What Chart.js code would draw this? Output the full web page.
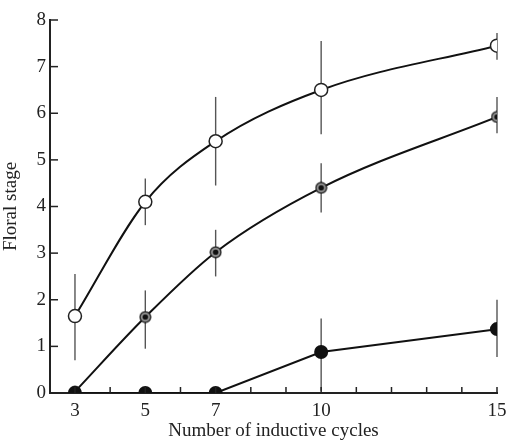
<!DOCTYPE html>
<html lang="en">
<head>
    <meta charset="UTF-8" />
    <title>Floral stage vs inductive cycles</title>
    <script src="https://cdn.jsdelivr.net/npm/chart.js"></script>
    <style>
        body { margin: 0; background: #fff; }
    </style>
</head>
<body>
    <canvas id="floralChart" width="507" height="442"></canvas>

    <script>
        // values
        const cycles = [3, 5, 7, 10, 15];
        const openMean = [1.65, 4.1, 5.4, 6.5, 7.45];
        const openLow = [0.7, 3.6, 4.45, 5.55, 7.15];
        const openHigh = [2.55, 4.6, 6.35, 7.55, 7.72];
        const dotMean = [0.03, 1.63, 3.02, 4.4, 5.92];
        const dotLow = [null, 0.95, 2.5, 3.87, 5.57];
        const dotHigh = [null, 2.2, 3.5, 4.93, 6.35];
        const solidMean = [0, 0, 0, 0.88, 1.37];
        const solidLow = [null, null, null, 0.05, 0.77];
        const solidHigh = [null, null, null, 1.6, 2.0];
        const minorTicks = [3, 4, 5, 6, 7, 8, 9, 10, 11, 12, 13, 14, 15];
        const yTicks = [0, 1, 2, 3, 4, 5, 6, 7, 8];

        const serif = "'Liberation Serif', 'DejaVu Serif', serif";

        function toPoints(ys) {
            return cycles.map((c, i) => ({ x: c, y: ys[i] }));
        }

        // circle with a dot in the middle
        function dottedCircle() {
            const c = document.createElement("canvas");
            c.width = 13; c.height = 13;
            const g = c.getContext("2d");
            g.beginPath();
            g.arc(6.5, 6.5, 5.3, 0, Math.PI * 2);
            g.fillStyle = "#9a9a9a";
            g.fill();
            g.lineWidth = 1.4;
            g.strokeStyle = "#222";
            g.stroke();
            g.beginPath();
            g.arc(6.5, 6.5, 2.8, 0, Math.PI * 2);
            g.fillStyle = "#111";
            g.fill();
            return c;
        }

        const errorBars = {
            id: "errorBars",
            beforeDatasetsDraw(chart) {
                const ctx = chart.ctx;
                const xs = chart.scales.x, ys = chart.scales.y;
                const sets = [[openLow, openHigh], [dotLow, dotHigh], [solidLow, solidHigh]];
                ctx.save();
                ctx.strokeStyle = "#555";
                ctx.lineWidth = 1.4;
                sets.forEach(([lo, hi]) => {
                    cycles.forEach((c, i) => {
                        if (lo[i] == null) return;
                        const px = xs.getPixelForValue(c);
                        ctx.beginPath();
                        ctx.moveTo(px, ys.getPixelForValue(lo[i]));
                        ctx.lineTo(px, ys.getPixelForValue(hi[i]));
                        ctx.stroke();
                    });
                });
                ctx.restore();
            },
            afterDraw(chart) {
                // tick marks point into the plot
                const ctx = chart.ctx;
                const xs = chart.scales.x, ys = chart.scales.y;
                const a = chart.chartArea;
                ctx.save();
                ctx.strokeStyle = "#222";
                ctx.lineWidth = 1.5;
                minorTicks.forEach(v => {
                    const px = xs.getPixelForValue(v);
                    ctx.beginPath();
                    ctx.moveTo(px, a.bottom);
                    ctx.lineTo(px, a.bottom - 6);
                    ctx.stroke();
                });
                yTicks.forEach(v => {
                    const py = ys.getPixelForValue(v);
                    ctx.beginPath();
                    ctx.moveTo(a.left, py);
                    ctx.lineTo(a.left + 8, py);
                    ctx.stroke();
                });
                ctx.restore();
            }
        };

        const lineStyle = {
            borderColor: "#111",
            borderWidth: 2,
            cubicInterpolationMode: "monotone",
            fill: false
        };

        new Chart(document.getElementById("floralChart"), {
            type: "line",
            data: {
                datasets: [
                    {
                        ...lineStyle,
                        cubicInterpolationMode: "default",
                        tension: 0,
                        data: toPoints(solidMean),
                        pointStyle: "circle",
                        pointRadius: 6,
                        pointBackgroundColor: "#111",
                        pointBorderColor: "#111"
                    },
                    {
                        ...lineStyle,
                        data: toPoints(dotMean),
                        pointStyle: dottedCircle()
                    },
                    {
                        ...lineStyle,
                        data: toPoints(openMean),
                        pointStyle: "circle",
                        pointRadius: 6.5,
                        pointBorderWidth: 1.5,
                        pointBackgroundColor: "#fff",
                        pointBorderColor: "#222"
                    }
                ]
            },
            options: {
                responsive: false,
                animation: false,
                layout: { padding: { top: 20, right: 10, left: 0, bottom: 0 } },
                plugins: { legend: { display: false }, tooltip: { enabled: false } },
                scales: {
                    x: {
                        type: "linear",
                        min: 2.29,
                        max: 15,
                        afterBuildTicks: s => { s.ticks = cycles.map(v => ({ value: v })); },
                        afterFit: s => { s.height = 49; s.paddingRight = 0; s.paddingLeft = 0; },
                        grid: { display: false, drawTicks: false },
                        border: { display: true, color: "#222", width: 2 },
                        ticks: { color: "#222", padding: 7, font: { family: serif, size: 19 } },
                        title: {
                            display: true,
                            text: "Number of inductive cycles",
                            color: "#222",
                            padding: 0,
                            font: { family: serif, size: 19 }
                        }
                    },
                    y: {
                        min: 0,
                        max: 8,
                        afterFit: s => { s.width = 50; },
                        grid: { display: false, drawTicks: false },
                        border: { display: true, color: "#222", width: 2 },
                        ticks: { stepSize: 1, color: "#222", padding: 4, font: { family: serif, size: 19 } },
                        title: {
                            display: true,
                            text: "Floral stage",
                            color: "#222",
                            padding: 0,
                            font: { family: serif, size: 19 }
                        }
                    }
                }
            },
            plugins: [errorBars]
        });
    </script>
</body>
</html>
